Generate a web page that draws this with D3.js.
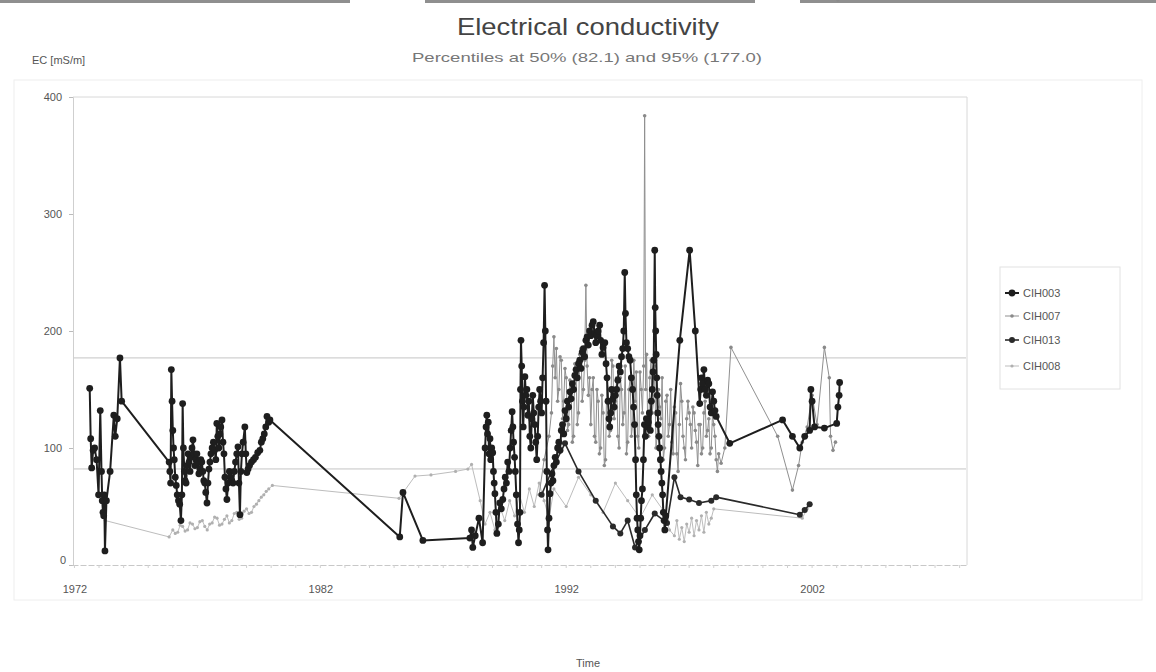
<!DOCTYPE html>
<html><head><meta charset="utf-8">
<script src="https://cdn.jsdelivr.net/npm/d3@7"></script>
<style>
html,body{margin:0;padding:0;background:#fff;}
svg{display:block;font-family:"Liberation Sans",Arial,sans-serif;}
</style></head>
<body>
<svg id="chart" width="1156" height="672"></svg>
<script>
// ---------- DATA ----------
const seriesNames = ["CIH003", "CIH007", "CIH013", "CIH008"];
const xTickYears = [1972, 1982, 1992, 2002];
const yTickValues = [0, 100, 200, 300, 400];
const percentileValues = [82.1, 177.0];
const titleText = "Electrical conductivity";
const subtitleText = "Percentiles at 50% (82.1) and 95% (177.0)";

const cih003Years = [1972.62,1972.66,1972.7,1972.76,1972.82,1972.9,1972.98,1973.05,1973.1,1973.13,1973.16,1973.19,1973.21,1973.24,1973.3,1973.45,1973.6,1973.66,1973.74,1973.85,1973.92,
 1975.85,1975.88,1975.91,1975.94,1975.97,1976.0,1976.03,1976.06,1976.1,1976.14,1976.18,1976.23,1976.28,1976.33,1976.37,1976.4,1976.43,1976.47,1976.5,1976.54,1976.58,1976.62,1976.66,1976.7,1976.74,1976.78,1976.82,1976.86,1976.9,1976.94,1976.98,1977.02,1977.06,1977.1,1977.14,1977.18,1977.22,1977.26,1977.3,1977.34,1977.39,1977.43,1977.47,1977.51,1977.55,1977.6,1977.65,1977.7,1977.75,1977.79,1977.83,1977.87,1977.91,1977.95,1978.0,1978.04,1978.08,1978.12,1978.16,1978.2,1978.25,1978.3,1978.35,1978.4,1978.45,1978.5,1978.55,1978.6,1978.65,1978.69,1978.73,1978.77,1978.81,1978.86,1978.93,1978.97,1979.01,1979.06,1979.12,1979.2,1979.28,1979.36,1979.45,1979.54,1979.6,1979.66,1979.72,1979.78,1979.83,1979.9,1979.95,
 1985.23,1985.36,1986.17,1988.08,1988.15,1988.2,1988.3,1988.45,1988.6,
 1988.7,1988.74,1988.77,1988.8,1988.83,1988.86,1988.9,1988.93,1988.97,1989.01,1989.04,1989.07,1989.1,1989.14,1989.18,1989.24,1989.3,1989.36,1989.42,1989.47,1989.52,1989.57,1989.62,1989.67,1989.72,1989.76,1989.8,1989.83,1989.86,1989.9,1989.93,1989.97,1990.02,1990.06,1990.09,1990.12,1990.14,1990.16,1990.19,1990.22,1990.25,1990.28,1990.32,1990.36,1990.4,1990.44,1990.48,1990.52,1990.56,1990.6,1990.64,1990.68,1990.72,1990.76,1990.8,1990.84,1990.88,1990.92,1990.96,1991.0,1991.04,1991.08,1991.12,1991.15,1991.18,1991.21,1991.24,1991.26,1991.3,1991.34,1991.38,1991.42,1991.46,1991.5,1991.55,1991.6,1991.65,1991.7,1991.75,1991.8,1991.85,1991.9,1991.95,1992.0,1992.05,1992.1,1992.15,1992.2,1992.25,1992.3,1992.35,1992.4,1992.45,1992.5,1992.55,1992.6,1992.65,1992.7,1992.75,1992.8,1992.85,1992.9,1992.95,1993.0,1993.05,1993.1,1993.15,1993.2,1993.25,1993.3,1993.36,1993.4,1993.45,1993.5,1993.57,1993.62,1993.66,1993.7,1993.74,1993.77,1993.81,1993.85,1993.9,1993.95,1994.0,1994.05,1994.1,1994.15,1994.2,1994.25,1994.3,1994.34,1994.38,1994.41,1994.45,1994.5,1994.55,1994.6,1994.65,1994.7,1994.74,1994.78,1994.82,1994.85,1994.88,1994.91,1994.94,1994.97,1995.0,1995.03,1995.06,1995.1,1995.14,1995.18,1995.22,1995.26,1995.3,1995.34,1995.38,1995.42,1995.46,1995.5,1995.53,1995.56,1995.6,1995.62,1995.64,1995.66,1995.68,1995.7,1995.72,1995.74,1995.77,1995.8,1995.83,1995.86,1995.89,1995.92,1995.95,1995.98,1996.01,1996.05,
 1996.62,1997.02,1997.25,1997.43,1997.47,1997.5,1997.55,1997.6,1997.65,1997.7,1997.75,1997.8,1997.85,1997.9,1997.95,1998.0,1998.05,1998.1,1998.65,2000.8,2001.2,2001.5,2001.7,2001.9,2001.95,2002.0,2002.1,2002.5,2003.0,2003.05,2003.1,2003.12];
const cih003Values = [151,108,83,98,100,90,60,132,80,55,45,42,60,12,55,80,128,110,125,177,140,
 88,80,70,167,140,115,100,90,75,68,60,55,52,38,60,138,100,80,72,70,85,95,88,80,92,100,107,95,85,90,95,88,78,82,90,88,80,72,70,62,53,70,82,88,95,100,105,98,90,121,110,100,112,118,124,105,95,75,65,56,70,80,75,72,70,80,88,95,101,70,43,80,95,105,118,95,79,82,85,88,90,92,96,98,105,108,112,118,127,122,124,
 24,62,21,23,30,15,25,40,19,
 100,118,128,112,122,95,108,90,100,96,80,70,61,45,27,35,53,48,56,65,75,70,88,80,100,115,131,118,105,92,80,60,35,19,30,45,150,192,170,140,118,135,161,145,150,128,140,110,100,125,145,130,120,105,90,110,135,150,140,130,160,190,239,200,140,80,30,13,40,61,70,78,72,85,92,88,100,105,98,115,120,112,132,125,140,135,148,142,155,150,162,167,160,172,175,168,182,185,178,192,195,188,200,196,205,208,198,190,196,200,205,192,180,186,190,172,160,140,125,118,130,150,142,135,145,150,158,170,165,178,185,200,250,215,190,185,178,175,160,150,135,120,90,60,40,30,20,13,25,40,55,65,90,120,110,125,118,122,130,115,140,150,165,175,269,220,200,180,160,145,130,120,110,100,90,80,70,60,45,38,30,42,
 192,269,200,138,150,160,155,167,150,145,158,155,135,130,148,140,132,127,104,124,110,100,110,115,150,140,118,117,121,135,145,156];

const cih007Years = [1990.9,1991.1,1991.3,1991.4,1991.45,1991.5,1991.55,1991.6,1991.65,1991.7,1991.75,1991.8,1991.85,1991.9,1991.95,1992.0,1992.05,1992.1,1992.15,1992.2,1992.25,1992.3,1992.35,1992.4,1992.45,1992.5,1992.55,1992.6,1992.65,1992.7,1992.75,1992.8,1992.85,1992.9,1992.95,1993.0,1993.05,1993.1,1993.15,1993.2,1993.25,1993.3,1993.35,1993.4,1993.45,1993.5,1993.55,1993.6,1993.65,1993.7,1993.75,1993.8,1993.85,1993.9,1993.95,1994.0,1994.05,1994.1,1994.15,1994.2,1994.25,1994.3,1994.35,1994.4,1994.45,1994.5,1994.55,1994.6,1994.65,1994.7,1994.75,1994.8,1994.85,1994.9,1994.95,1995.0,1995.05,1995.1,1995.15,1995.19,1995.23,1995.27,1995.31,1995.35,1995.4,1995.45,1995.5,1995.55,1995.6,1995.65,1995.7,1995.75,1995.8,1995.85,1995.9,1995.95,1996.0,1996.05,1996.1,1996.15,1996.2,1996.25,1996.3,1996.35,1996.4,1996.45,1996.5,1996.55,1996.6,1996.65,1996.7,1996.75,1996.8,1996.85,1996.9,1996.95,1997.0,1997.05,1997.1,1997.15,1997.2,1997.25,1997.3,1997.35,1997.4,1997.45,1997.5,1997.55,1997.6,1997.65,1997.7,1997.75,1997.8,1997.85,1997.9,1997.95,1998.0,1998.05,1998.1,1998.15,1998.2,1998.3,1998.45,1998.7,2000.6,2001.2,2001.45,2001.6,2001.8,2002.0,2002.2,2002.5,2002.7,2002.75,2002.85,2002.95,2003.05];
const cih007Values = [60,90,110,130,170,195,160,185,140,150,178,175,125,140,168,160,115,120,158,150,105,110,172,165,120,130,180,185,140,150,175,239,170,145,160,120,150,160,110,105,150,140,95,100,145,130,85,90,160,150,110,115,175,170,125,140,160,110,100,160,150,120,130,170,95,105,150,160,110,120,175,140,165,110,100,165,150,130,170,384,150,180,125,110,160,175,130,140,170,100,110,150,135,125,160,90,100,140,145,110,120,150,105,95,135,130,95,80,120,155,140,110,100,90,125,140,130,120,100,135,130,115,105,85,120,120,95,100,130,140,110,115,125,95,100,130,120,110,90,80,95,87,100,186,110,64,85,105,118,145,120,186,160,110,98,105];

const cih013Years = [1991.0,1991.5,1991.95,1992.5,1993.2,1993.9,1994.2,1994.5,1994.8,1995.2,1995.6,1996.1,1996.4,1996.65,1997.0,1997.4,1997.9,1998.1,2001.5,2001.7,2001.9];
const cih013Values = [60,85,104,80,55,33,27,38,15,30,44,36,75,58,56,53,55,58,43,47,52];

const cih008Years = [1973.25,1975.85,1976.0,1976.1,1976.2,1976.3,1976.4,1976.5,1976.6,1976.7,1976.8,1976.9,1977.0,1977.1,1977.2,1977.3,1977.4,1977.5,1977.6,1977.7,1977.8,1977.9,1978.0,1978.1,1978.2,1978.3,1978.4,1978.5,1978.6,1978.7,1978.8,1978.9,1979.0,1979.1,1979.2,1979.3,1979.4,1979.5,1979.6,1979.7,1979.8,1979.9,1980.05,1985.2,1985.85,1986.5,1987.5,1988.0,1988.15,
 1988.5,1988.7,1988.9,1989.1,1989.3,1989.5,1989.7,1989.9,1990.1,1990.3,1990.5,1990.7,1990.9,1991.1,1991.3,1991.5,1992.0,1992.5,1993.0,1993.5,1994.0,1994.5,1995.0,1995.5,1996.0,1996.2,1996.4,1996.5,1996.6,1996.7,1996.8,1996.9,1997.0,1997.1,1997.2,1997.3,1997.4,1997.5,1997.6,1997.7,1997.8,1997.9,1998.0,2001.6,2001.8,2001.95];
const cih008Values = [38,24,30,27,28,34,33,29,30,36,35,31,32,37,38,33,30,35,36,41,40,34,35,39,42,36,38,44,45,39,40,46,48,44,45,50,52,55,58,60,63,65,68,57,76,77,80,82,86,
 55,35,45,30,50,38,55,42,60,45,65,50,70,55,40,65,50,75,60,45,70,55,40,60,45,30,25,38,22,32,20,35,28,40,25,38,30,42,28,45,35,40,48,40,48,52];

// ---------- CHART ----------
const svg = d3.select("#chart");
const x = d3.scaleLinear().domain([1971.9, 2008.3]).range([72, 967]);
const y = d3.scaleLinear().domain([0, 400]).range([565, 97]);

// outer frame (faint)
svg.append("rect").attr("x", 14).attr("y", 80).attr("width", 1128).attr("height", 520)
  .attr("fill", "none").attr("stroke", "#eeeeee").attr("stroke-width", 1);
// scan artifacts at top edge
svg.append("rect").attr("x", 0).attr("y", 0).attr("width", 350).attr("height", 3).attr("fill", "#8f8f8f");
svg.append("rect").attr("x", 425).attr("y", 0).attr("width", 330).attr("height", 3).attr("fill", "#8f8f8f");
svg.append("rect").attr("x", 800).attr("y", 0).attr("width", 356).attr("height", 3).attr("fill", "#8f8f8f");

// plot frame
svg.append("line").attr("x1", 73).attr("x2", 967).attr("y1", 97).attr("y2", 97).attr("stroke", "#d8d8d8");
svg.append("line").attr("x1", 967).attr("x2", 967).attr("y1", 97).attr("y2", 565).attr("stroke", "#d8d8d8");

// axes
const yAxis = d3.axisLeft(y).tickValues(yTickValues).tickSize(4).tickFormat(d3.format("d"));
const gy = svg.append("g").attr("transform", "translate(73,0)").call(yAxis);
gy.select(".domain").attr("stroke", "#cfcfcf");
gy.selectAll(".tick line").attr("stroke", "#bbb");
gy.selectAll(".tick text").attr("fill", "#555").attr("font-size", 11).attr("x", -11)
  .attr("font-family", "Liberation Sans, Arial, sans-serif");
gy.selectAll(".tick").filter(d => d === 0).select("text").attr("dy", "-0.1em").attr("x", -7);

const xAxis = d3.axisBottom(x).tickValues(xTickYears).tickSize(0).tickFormat(d3.format("d"));
const gx = svg.append("g").attr("transform", "translate(0,565)").call(xAxis);
gx.select(".domain").attr("stroke", "#c8c8c8").attr("stroke-dasharray", "6,2");
gx.selectAll(".tick text").attr("fill", "#555").attr("font-size", 11).attr("dy", "2.3em")
  .attr("font-family", "Liberation Sans, Arial, sans-serif");
svg.append("g").selectAll("line").data(d3.range(1972, 2009)).join("line")
  .attr("x1", d => x(d)).attr("x2", d => x(d)).attr("y1", 565).attr("y2", 568)
  .attr("stroke", "#d0d0d0");

// percentile lines
svg.append("g").selectAll("line").data(percentileValues).join("line")
  .attr("x1", 74).attr("x2", 966).attr("y1", d => y(d)).attr("y2", d => y(d))
  .attr("stroke", "#c4c4c4").attr("stroke-width", 1);

// series
const makeData = (ys, vs) => ys.map((t, i) => ({t, v: vs[i]}));
const series = [
  {name: seriesNames[3], data: makeData(cih008Years, cih008Values), stroke: "#bdbdbd", width: 1, r: 1.6, fill: "#b0b0b0"},
  {name: seriesNames[1], data: makeData(cih007Years, cih007Values), stroke: "#8f8f8f", width: 1, r: 1.8, fill: "#8a8a8a"},
  {name: seriesNames[2], data: makeData(cih013Years, cih013Values), stroke: "#2a2a2a", width: 1.6, r: 3, fill: "#2a2a2a"},
  {name: seriesNames[0], data: makeData(cih003Years, cih003Values), stroke: "#1e1e1e", width: 2, r: 3.4, fill: "#1e1e1e"}
];
const line = d3.line().x(d => x(d.t)).y(d => y(d.v));
series.forEach(s => {
  const g = svg.append("g");
  g.append("path").datum(s.data).attr("d", line).attr("fill", "none")
    .attr("stroke", s.stroke).attr("stroke-width", s.width).attr("stroke-linejoin", "round");
  g.selectAll("circle").data(s.data).join("circle")
    .attr("cx", d => x(d.t)).attr("cy", d => y(d.v)).attr("r", s.r).attr("fill", s.fill);
});

// titles
svg.append("text").attr("x", 588).attr("y", 35).attr("text-anchor", "middle")
  .attr("font-size", 24).attr("fill", "#444").attr("textLength", 262).attr("lengthAdjust", "spacingAndGlyphs")
  .text(titleText);
svg.append("text").attr("x", 587).attr("y", 62).attr("text-anchor", "middle")
  .attr("font-size", 13).attr("fill", "#777").attr("textLength", 350).attr("lengthAdjust", "spacingAndGlyphs")
  .text(subtitleText);
svg.append("text").attr("x", 32).attr("y", 64).attr("font-size", 11).attr("fill", "#555").text("EC [mS/m]");
svg.append("text").attr("x", 588).attr("y", 667).attr("text-anchor", "middle").attr("font-size", 11).attr("fill", "#555").text("Time");

// legend
const lg = svg.append("g");
lg.append("rect").attr("x", 1000).attr("y", 267).attr("width", 120).attr("height", 122)
  .attr("fill", "none").attr("stroke", "#e2e2e2");
const legendItems = [series[3], series[1], series[2], series[0]];
const legendY = [293, 316, 340, 366];
legendItems.forEach((s, i) => {
  const yy = legendY[i];
  lg.append("line").attr("x1", 1005).attr("x2", 1019).attr("y1", yy).attr("y2", yy)
    .attr("stroke", s.stroke).attr("stroke-width", s.width);
  lg.append("circle").attr("cx", 1012).attr("cy", yy).attr("r", s.r).attr("fill", s.fill);
  lg.append("text").attr("x", 1023).attr("y", yy + 4).attr("font-size", 11).attr("fill", "#555").text(s.name);
});
</script>
</body></html>
